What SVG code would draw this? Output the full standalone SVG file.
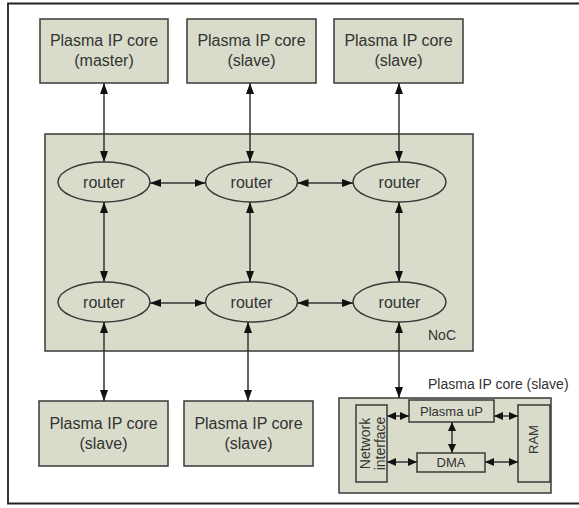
<svg xmlns="http://www.w3.org/2000/svg" width="579" height="508" viewBox="0 0 579 508">
<defs>
<style>
.box{fill:#d9dcca;stroke:#3a3a3a;stroke-width:1.5}
.t{font-family:"Liberation Sans",Arial,sans-serif;fill:#333;text-anchor:middle}
.b{font-size:16px}
.s{font-size:13px}
.l{font-size:14px;text-anchor:start}
.c{fill:none;stroke:#333;stroke-width:1.5}
.big{marker-start:url(#a);marker-end:url(#a)}
.sm{marker-start:url(#m);marker-end:url(#m)}
</style>
<marker id="a" viewBox="0 0 11 8" refX="11" refY="4" markerWidth="11" markerHeight="8" markerUnits="userSpaceOnUse" orient="auto-start-reverse"><path d="M0,0 L11,4 L0,8 z" fill="#111"/></marker>
<marker id="m" viewBox="0 0 9 8" refX="9" refY="4" markerWidth="9" markerHeight="8" markerUnits="userSpaceOnUse" orient="auto-start-reverse"><path d="M0,0 L9,4 L0,8 z" fill="#111"/></marker>
</defs>
<rect width="579" height="508" fill="#fff"/>
<path d="M600,3.5 H8 V503.5 H600" fill="none" stroke="#222" stroke-width="1.8"/>

<g id="noc">
<rect class="box" x="45" y="134" width="428" height="217"/>
<text class="t l" x="428" y="340">NoC</text>
</g>

<g id="core-master">
<rect class="box" x="40" y="19" width="128" height="64"/>
<text class="t b" x="104" y="46">Plasma IP core</text>
<text class="t b" x="104" y="66">(master)</text>
</g>
<g id="core-top2">
<rect class="box" x="187" y="19" width="129" height="64"/>
<text class="t b" x="251.5" y="46">Plasma IP core</text>
<text class="t b" x="251.5" y="66">(slave)</text>
</g>
<g id="core-top3">
<rect class="box" x="334" y="19" width="129" height="64"/>
<text class="t b" x="398.5" y="46">Plasma IP core</text>
<text class="t b" x="398.5" y="66">(slave)</text>
</g>

<g id="r11"><ellipse class="box" cx="104" cy="182" rx="46" ry="20"/><text class="t b" x="104" y="188">router</text></g>
<g id="r12"><ellipse class="box" cx="251.5" cy="182" rx="46" ry="20"/><text class="t b" x="251.5" y="188">router</text></g>
<g id="r13"><ellipse class="box" cx="399.5" cy="182" rx="46.5" ry="20"/><text class="t b" x="399.5" y="188">router</text></g>
<g id="r21"><ellipse class="box" cx="104" cy="302" rx="46" ry="20"/><text class="t b" x="104" y="308">router</text></g>
<g id="r22"><ellipse class="box" cx="251.5" cy="302" rx="46" ry="20"/><text class="t b" x="251.5" y="308">router</text></g>
<g id="r23"><ellipse class="box" cx="399.5" cy="302" rx="46.5" ry="20"/><text class="t b" x="399.5" y="308">router</text></g>

<g id="core-bot1">
<rect class="box" x="39" y="401" width="129" height="65"/>
<text class="t b" x="103.5" y="429">Plasma IP core</text>
<text class="t b" x="103.5" y="449">(slave)</text>
</g>
<g id="core-bot2">
<rect class="box" x="184" y="401" width="129" height="65"/>
<text class="t b" x="248.5" y="429">Plasma IP core</text>
<text class="t b" x="248.5" y="449">(slave)</text>
</g>

<g id="core-detail">
<text class="t l" x="428" y="389">Plasma IP core (slave)</text>
<rect class="box" x="339" y="398" width="212" height="95"/>
<rect class="box" x="356" y="405" width="31" height="77"/>
<text class="t" font-size="14" transform="translate(370,443.5) rotate(-90)">Network</text>
<text class="t" font-size="14" transform="translate(384.5,443.5) rotate(-90)">interface</text>
<rect class="box" x="409" y="400" width="85" height="22"/>
<text class="t s" x="451.5" y="416">Plasma uP</text>
<rect class="box" x="417" y="453" width="68" height="19"/>
<text class="t s" x="451" y="467">DMA</text>
<rect class="box" x="518" y="405" width="32" height="77"/>
<text class="t s" transform="translate(538,439.5) rotate(-90)">RAM</text>
</g>

<g id="connectors">
<line class="c big" x1="104" y1="83" x2="104" y2="162"/>
<line class="c big" x1="250" y1="83" x2="250" y2="162"/>
<line class="c big" x1="399" y1="83" x2="399" y2="162"/>
<line class="c big" x1="104" y1="202" x2="104" y2="282"/>
<line class="c big" x1="250" y1="202" x2="250" y2="282"/>
<line class="c big" x1="399" y1="202" x2="399" y2="282"/>
<line class="c big" x1="104" y1="322" x2="104" y2="401"/>
<line class="c big" x1="248" y1="322" x2="248" y2="401"/>
<line class="c big" x1="399" y1="322" x2="399" y2="398"/>
<line class="c big" x1="150" y1="183" x2="205.5" y2="183"/>
<line class="c big" x1="297.5" y1="183" x2="353" y2="183"/>
<line class="c big" x1="150" y1="303" x2="205.5" y2="303"/>
<line class="c big" x1="297.5" y1="303" x2="353" y2="303"/>
<line class="c sm" x1="387" y1="416" x2="409" y2="416"/>
<line class="c sm" x1="494" y1="416" x2="518" y2="416"/>
<line class="c sm" x1="452" y1="422" x2="452" y2="453"/>
<line class="c sm" x1="387" y1="462" x2="417" y2="462"/>
<line class="c sm" x1="485" y1="462" x2="518" y2="462"/>
</g>
</svg>
